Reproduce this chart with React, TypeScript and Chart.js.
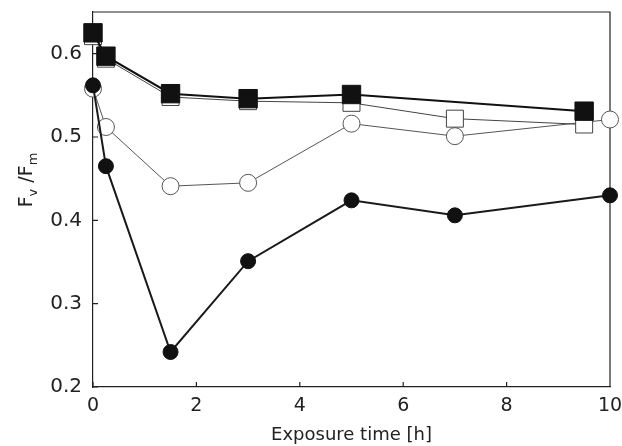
import React, { useEffect, useRef } from "react";
import { Chart, registerables } from "chart.js";

Chart.register(...registerables);

const X_TICKS = [0, 2, 4, 6, 8, 10];
const Y_TICKS = [0.2, 0.3, 0.4, 0.5, 0.6];

const filledSquareX = [0, 0.25, 1.5, 3, 5, 9.5];
const filledSquareY = [0.625, 0.597, 0.552, 0.546, 0.551, 0.531];

const openSquareX = [0, 0.25, 1.5, 3, 5, 7, 9.5];
const openSquareY = [0.621, 0.594, 0.548, 0.543, 0.541, 0.522, 0.515];

const openCircleX = [0, 0.25, 1.5, 3, 5, 7, 10];
const openCircleY = [0.558, 0.512, 0.441, 0.445, 0.516, 0.501, 0.521];

const filledCircleX = [0, 0.25, 1.5, 3, 5, 7, 10];
const filledCircleY = [0.562, 0.465, 0.242, 0.351, 0.424, 0.406, 0.43];

const FONT = "'DejaVu Sans', 'Liberation Sans', Arial, sans-serif";
const INK = "#222";

const pts = (xs: number[], ys: number[]) => xs.map((x, i) => ({ x, y: ys[i] }));

const framePlugin = {
  id: "frame",
  beforeDatasetsDraw(chart: any) {
    const { ctx, chartArea: a, scales } = chart;
    ctx.save();
    ctx.strokeStyle = INK;
    ctx.lineWidth = 1.2;
    ctx.beginPath();
    ctx.moveTo(a.left, a.top);
    ctx.lineTo(a.right, a.top);
    ctx.lineTo(a.right, a.bottom);
    for (const v of X_TICKS) {
      const px = scales.x.getPixelForValue(v);
      ctx.moveTo(px, a.bottom);
      ctx.lineTo(px, a.bottom - 5);
    }
    for (const v of Y_TICKS) {
      const py = scales.y.getPixelForValue(v);
      ctx.moveTo(a.left, py);
      ctx.lineTo(a.left + 5, py);
    }
    ctx.stroke();
    ctx.restore();
  },
  afterDraw(chart: any) {
    const { ctx } = chart;
    ctx.save();
    ctx.fillStyle = INK;
    ctx.translate(32, 180);
    ctx.rotate(-Math.PI / 2);
    ctx.textBaseline = "alphabetic";
    ctx.textAlign = "left";
    const big = `19px ${FONT}`;
    const small = `13px ${FONT}`;
    const parts: [string, string, number][] = [
      ["F", big, 0],
      ["v", small, 5],
      [" /F", big, 0],
      ["m", small, 5],
    ];
    let total = 0;
    for (const [t, f] of parts) {
      ctx.font = f;
      total += ctx.measureText(t).width;
    }
    let cx = -total / 2;
    for (const [t, f, dy] of parts) {
      ctx.font = f;
      ctx.fillText(t, cx, dy);
      cx += ctx.measureText(t).width;
    }
    ctx.restore();
  },
};

export default function App() {
  const ref = useRef<HTMLCanvasElement | null>(null);
  useEffect(() => {
    document.body.style.margin = "0";
    const canvas = ref.current!;
    const chart = new Chart(canvas, {
      type: "line",
      data: {
        datasets: [
          {
            label: "filled squares",
            data: pts(filledSquareX, filledSquareY),
            borderColor: "#111",
            borderWidth: 2,
            pointStyle: "rect",
            pointRadius: 13,
            pointBackgroundColor: "#111",
            pointBorderColor: "#111",
            pointBorderWidth: 1,
            clip: false,
            order: 0,
          },
          {
            label: "open squares",
            data: pts(openSquareX, openSquareY),
            borderColor: "#444",
            borderWidth: 1,
            pointStyle: "rect",
            pointRadius: 12,
            pointBackgroundColor: "#fff",
            pointBorderColor: "#444",
            pointBorderWidth: 1,
            clip: false,
            order: 1,
          },
          {
            label: "filled circles",
            data: pts(filledCircleX, filledCircleY),
            borderColor: "#1a1a1a",
            borderWidth: 2,
            pointStyle: "circle",
            pointRadius: 7.5,
            pointBackgroundColor: "#111",
            pointBorderColor: "#111",
            pointBorderWidth: 1,
            clip: false,
            order: 2,
          },
          {
            label: "open circles",
            data: pts(openCircleX, openCircleY),
            borderColor: "#555",
            borderWidth: 1,
            pointStyle: "circle",
            pointRadius: 8.5,
            pointBackgroundColor: "#fff",
            pointBorderColor: "#555",
            pointBorderWidth: 1,
            clip: false,
            order: 3,
          },
        ],
      },
      options: {
        animation: false,
        responsive: false,
        events: [],
        layout: { autoPadding: false, padding: { top: 12, right: 12, left: 0, bottom: 0 } },
        plugins: { legend: { display: false }, tooltip: { enabled: false } },
        scales: {
          x: {
            type: "linear",
            min: 0,
            max: 10,
            afterBuildTicks: (s: any) => {
              s.ticks = X_TICKS.map((v) => ({ value: v }));
            },
            afterFit: (s: any) => {
              s.height = 59;
              s.paddingLeft = 0;
              s.paddingRight = 0;
            },
            grid: { display: true, drawOnChartArea: false, drawTicks: false },
            border: { display: true, color: INK, width: 1.2 },
            ticks: {
              padding: 8,
              color: INK,
              font: { family: FONT, size: 19 },
              maxRotation: 0,
            },
            title: {
              display: true,
              text: "Exposure time [h]",
              color: INK,
              font: { family: FONT, size: 18 },
              padding: { top: 0, bottom: 0 },
            },
          },
          y: {
            type: "linear",
            min: 0.2,
            max: 0.65,
            afterBuildTicks: (s: any) => {
              s.ticks = Y_TICKS.map((v) => ({ value: v }));
            },
            afterFit: (s: any) => {
              s.width = 93;
              s.paddingTop = 0;
              s.paddingBottom = 0;
            },
            grid: { display: true, drawOnChartArea: false, drawTicks: false },
            border: { display: true, color: INK, width: 1.2 },
            ticks: {
              padding: 11,
              color: INK,
              font: { family: FONT, size: 20 },
              callback: (v: any) => Number(v).toFixed(1),
            },
          },
        },
      },
      plugins: [framePlugin],
    } as any);
    return () => chart.destroy();
  }, []);
  return (
    <div style={{ width: 622, height: 446, background: "#fff" }}>
      <canvas ref={ref} width={622} height={446} />
    </div>
  );
}
